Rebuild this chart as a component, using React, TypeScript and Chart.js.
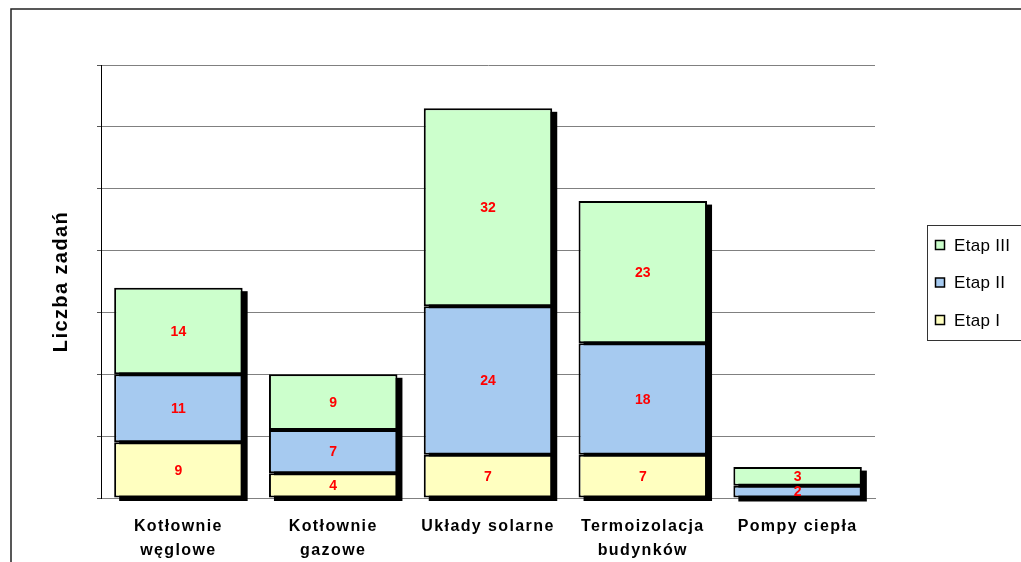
import React, { useEffect, useRef } from "react";
import { Chart, registerables } from "chart.js";

Chart.register(...registerables);

const categories: (string | string[])[] = [
  ["Kotłownie", "węglowe"],
  ["Kotłownie", "gazowe"],
  "Układy solarne",
  ["Termoizolacja", "budynków"],
  "Pompy ciepła",
];
const seriesNames = ["Etap I", "Etap II", "Etap III"];
const etap1 = [9, 4, 7, 7, 0];
const etap2 = [11, 7, 24, 18, 2];
const etap3 = [14, 9, 32, 23, 3];
const seriesColors = ["#FFFFC0", "#A6CAF0", "#CCFFCC"];
const yTitle = "Liczba zadań";
const yMax = 70;
const yStep = 10;

const FONT = "Arial, 'Liberation Sans', sans-serif";

export default function App() {
  const ref = useRef<HTMLCanvasElement | null>(null);

  useEffect(() => {
    if (!ref.current) return;

    const framePlugin = {
      id: "frame",
      beforeDraw(chart: any) {
        const ctx = chart.ctx;
        ctx.save();
        ctx.strokeStyle = "#222";
        ctx.lineWidth = 1.5;
        ctx.strokeRect(11, 9, 1200, 800);
        ctx.restore();
        ctx.letterSpacing = "1.4px";
      },
    };

    const shadowPlugin = {
      id: "shadow",
      beforeDatasetsDraw(chart: any) {
        const ctx = chart.ctx;
        ctx.letterSpacing = "0px";
        const n = chart.data.labels.length;
        const metas = chart.data.datasets.map((_: any, i: number) => chart.getDatasetMeta(i));
        ctx.save();
        ctx.fillStyle = "#000";
        for (let j = 0; j < n; j++) {
          let top = Infinity, bottom = -Infinity, x = 0, w = 0;
          metas.forEach((m: any) => {
            const el = m.data[j];
            const p = el.getProps(["x", "y", "base", "width"], true);
            top = Math.min(top, p.y, p.base);
            bottom = Math.max(bottom, p.y, p.base);
            x = p.x;
            w = p.width;
          });
          ctx.fillRect(x - w / 2 + 5, top + 3.5, w, bottom - top);
        }
        ctx.restore();
      },
    };

    const labelPlugin = {
      id: "vals",
      afterDatasetsDraw(chart: any) {
        const ctx = chart.ctx;
        ctx.save();
        ctx.letterSpacing = "0px";
        ctx.font = `bold 14px ${FONT}`;
        ctx.fillStyle = "#FF0000";
        ctx.textAlign = "center";
        ctx.textBaseline = "middle";
        chart.data.datasets.forEach((ds: any, i: number) => {
          const meta = chart.getDatasetMeta(i);
          meta.data.forEach((el: any, j: number) => {
            const v = ds.data[j];
            if (!v) return;
            const p = el.getProps(["x", "y", "base"], true);
            ctx.fillText(String(v), p.x, (p.y + p.base) / 2 + 1);
          });
        });
        ctx.restore();
      },
    };

    const legendPlugin = {
      id: "customLegend",
      afterDraw(chart: any) {
        const ctx = chart.ctx;
        ctx.save();
        ctx.letterSpacing = "0.3px";
        ctx.strokeStyle = "#333";
        ctx.lineWidth = 1;
        ctx.strokeRect(927.5, 225.5, 200, 115);
        const items = chart.data.datasets.map((d: any) => ({ label: d.label, color: d.backgroundColor })).reverse();
        ctx.font = `17px ${FONT}`;
        ctx.textBaseline = "middle";
        ctx.textAlign = "left";
        items.forEach((it: any, k: number) => {
          const cy = 245 + k * 37.5;
          ctx.fillStyle = it.color;
          ctx.fillRect(935.5, cy - 4.5, 9, 9);
          ctx.strokeStyle = "#000";
          ctx.lineWidth = 1.5;
          ctx.strokeRect(935.5, cy - 4.5, 9, 9);
          ctx.fillStyle = "#000";
          ctx.fillText(it.label, 954, cy + 1);
        });
        ctx.restore();
      },
    };

    const chart = new Chart(ref.current, {
      type: "bar",
      data: {
        labels: categories as any,
        datasets: [etap1, etap2, etap3].map((d, i) => ({
          label: seriesNames[i],
          data: d,
          backgroundColor: seriesColors[i],
          borderColor: "#000",
          borderWidth: 2,
          borderSkipped: false,
          categoryPercentage: 1,
          barPercentage: 0.83,
        })),
      },
      options: {
        responsive: false,
        animation: false,
        devicePixelRatio: 1,
        layout: { padding: { left: 49, right: 146, top: 65, bottom: 0 } },
        plugins: {
          legend: { display: false },
          tooltip: { enabled: false },
        },
        scales: {
          x: {
            stacked: true,
            grid: { display: false },
            border: { display: true, color: "#808080", width: 1 },
            ticks: {
              color: "#000",
              font: { family: FONT, size: 16, weight: "bold", lineHeight: 1.5 },
              padding: 9,
              maxRotation: 0,
              autoSkip: false,
            },
            afterFit(scale: any) {
              scale.height = 64;
            },
          },
          y: {
            stacked: true,
            min: 0,
            max: yMax,
            ticks: { display: false, stepSize: yStep },
            grid: { color: "#808080", tickLength: 4, tickColor: "#555", lineWidth: 1 },
            border: { display: true, color: "#000", width: 1 },
            title: {
              display: true,
              text: yTitle,
              color: "#000",
              font: { family: FONT, size: 20, weight: "bold", lineHeight: 1.2 },
              padding: { top: 0, bottom: 24 },
            },
          },
        },
      },
      plugins: [framePlugin, shadowPlugin, labelPlugin, legendPlugin],
    } as any);

    return () => chart.destroy();
  }, []);

  return (
    <div style={{ position: "fixed", left: 0, top: 0, width: 1021, height: 562, background: "#fff" }}>
      <canvas ref={ref} width={1021} height={562} style={{ display: "block", width: 1021, height: 562 }} />
    </div>
  );
}
